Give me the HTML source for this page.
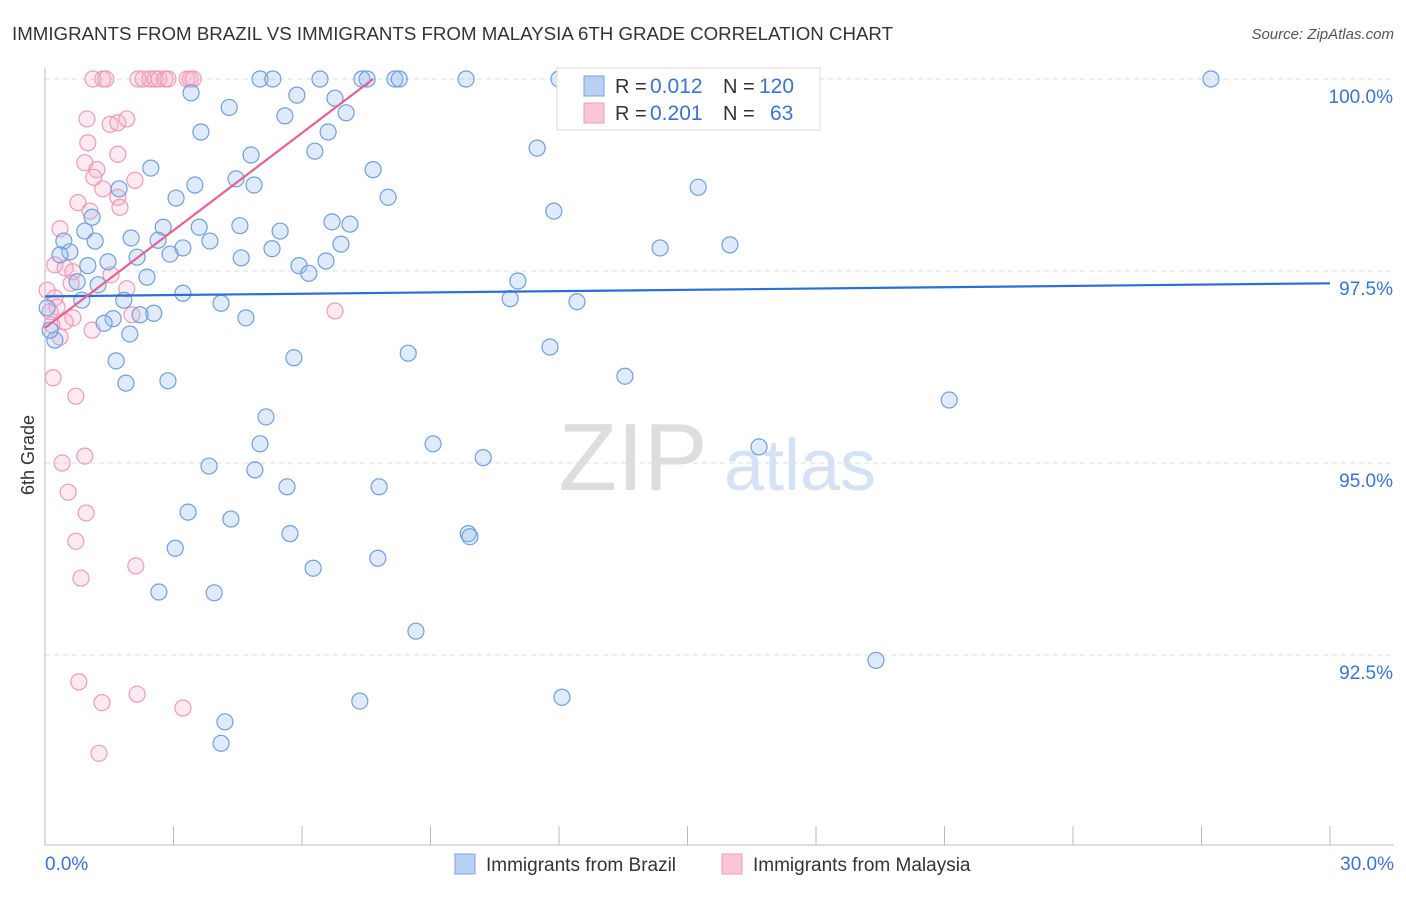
<!DOCTYPE html>
<html><head><meta charset="utf-8"><style>
body{margin:0;background:#fff;font-family:"Liberation Sans",sans-serif}
svg text{font-family:"Liberation Sans",sans-serif}
</style></head><body>
<svg id="c" width="1406" height="892" viewBox="0 0 1406 892">
<text x="12" y="40" font-size="18" fill="#333" textLength="881" lengthAdjust="spacingAndGlyphs">IMMIGRANTS FROM BRAZIL VS IMMIGRANTS FROM MALAYSIA 6TH GRADE CORRELATION CHART</text>
<text x="1394" y="39" font-size="15" fill="#555" font-style="italic" text-anchor="end">Source: ZipAtlas.com</text>
<text x="34" y="455" font-size="18" fill="#333" transform="rotate(-90 34 455)" text-anchor="middle">6th Grade</text>
<g><text x="633" y="490" font-size="96" fill="#ddd" font-family="Liberation Serif" text-anchor="middle">ZIP</text><text x="800" y="490" font-size="72" fill="#d5e2f5" text-anchor="middle">atlas</text></g>
<g id="grid"></g><g id="axes"></g><g id="pts"></g><g id="trend"></g>
<g>
<rect x="557" y="68" width="263" height="62" fill="#fff" stroke="#ddd"/>
<rect x="584" y="76" width="20" height="20" fill="#b8d0f2" stroke="#7aa3e0"/>
<rect x="584" y="103" width="20" height="20" fill="#f9c6d6" stroke="#f09ab8"/>
<text x="615" y="93" font-size="20" fill="#333">R =</text>
<text x="650" y="93" font-size="21" fill="#3a73d0">0.012</text>
<text x="723" y="93" font-size="20" fill="#333">N =</text>
<text x="759" y="93" font-size="21" fill="#3a73d0">120</text>
<text x="615" y="120" font-size="20" fill="#333">R =</text>
<text x="650" y="120" font-size="21" fill="#3a73d0">0.201</text>
<text x="723" y="120" font-size="20" fill="#333">N =</text>
<text x="770" y="120" font-size="21" fill="#3a73d0">63</text>
</g>
<g>
<rect x="455" y="854" width="20" height="20" fill="#b8d0f2" stroke="#7aa3e0"/>
<text x="486" y="871" font-size="19" fill="#333">Immigrants from Brazil</text>
<rect x="722" y="854" width="20" height="20" fill="#f9c6d6" stroke="#f09ab8"/>
<text x="753" y="871" font-size="19" fill="#333">Immigrants from Malaysia</text>
</g>
</svg>
<script>
const xTicks=[0,3,6,9,12,15,18,21,24,27,30];
const yTicks=[100,97.5,95,92.5];
const yTickLabels=["100.0%","97.5%","95.0%","92.5%"];
const brazilX=[5.02,5.32,6.42,7.40,7.52,8.17,8.27,9.83,12.0,13.96,27.22,3.41,5.88,6.77,4.30,5.60,7.03,3.64,6.61,6.30,11.49,4.81,2.47,7.66,4.46,4.88,3.50,1.73,15.25,8.01,3.06,11.88,1.10,6.70,7.12,2.76,3.60,4.55,5.49,0.93,2.01,2.64,3.85,1.17,0.44,6.91,3.22,15.99,14.36,5.30,0.58,0.35,2.92,4.58,2.15,1.47,5.93,1.00,6.56,6.16,2.38,11.04,0.75,1.24,3.22,1.84,10.86,12.42,0.86,4.11,2.54,2.22,1.59,1.38,4.69,1.98,0.23,11.79,8.48,5.81,1.66,1.89,2.87,13.54,21.11,5.16,9.06,5.02,16.67,10.23,3.83,4.90,7.80,5.65,3.34,4.34,5.72,9.88,9.92,3.04,7.77,6.26,2.66,3.95,8.66,19.40,7.35,12.07,4.20,4.11,0.05,0.12];
const brazilY=[100,100,100,100,100,100,100,100,100,100,100,99.82,99.79,99.75,99.63,99.52,99.56,99.31,99.31,99.06,99.10,99.01,98.84,98.82,98.70,98.62,98.62,98.57,98.59,98.46,98.45,98.28,98.20,98.14,98.11,98.07,98.07,98.09,98.02,98.02,97.93,97.90,97.89,97.89,97.89,97.85,97.80,97.84,97.80,97.79,97.75,97.71,97.72,97.67,97.68,97.62,97.57,97.57,97.63,97.47,97.42,97.37,97.36,97.32,97.21,97.12,97.14,97.10,97.12,97.08,96.95,96.93,96.88,96.82,96.89,96.68,96.60,96.51,96.43,96.37,96.33,96.04,96.07,96.13,95.82,95.60,95.25,95.25,95.21,95.07,94.96,94.91,94.69,94.69,94.36,94.27,94.08,94.08,94.04,93.89,93.76,93.63,93.32,93.31,92.81,92.43,91.90,91.95,91.63,91.35,97.02,96.73];
const malaysiaX=[1.12,1.35,1.42,2.17,2.29,2.45,2.57,2.66,2.80,2.87,3.32,3.39,3.46,0.98,1.52,1.70,1.91,1.00,1.70,0.93,1.21,1.14,2.10,1.35,1.70,1.75,0.77,1.05,0.35,0.23,0.47,0.65,1.54,0.61,0.05,0.23,1.91,0.28,0.12,0.65,2.03,0.47,1.10,6.77,0.16,0.35,0.19,0.72,0.93,0.40,0.54,0.96,0.72,0.84,2.12,0.79,2.15,1.33,3.22,1.26];
const malaysiaY=[100,100,100,100,100,100,100,100,100,100,100,100,100,99.48,99.41,99.43,99.48,99.17,99.02,98.91,98.82,98.72,98.68,98.57,98.46,98.33,98.39,98.28,98.05,97.58,97.54,97.49,97.45,97.34,97.25,97.15,97.27,97.03,96.97,96.89,96.93,96.84,96.73,96.98,96.80,96.64,96.11,95.87,95.09,95.00,94.62,94.35,93.98,93.50,93.66,92.15,91.99,91.88,91.81,91.22];
const brazilTrend=[[0,97.17],[30,97.34]];
const malaysiaTrend=[[0,96.76],[7.66,100]];
const NS="http://www.w3.org/2000/svg";
const X=v=>45+v*(1285/30), Y=v=>79+(100-v)*76.8;
function mk(t,a,p){const e=document.createElementNS(NS,t);for(const k in a)e.setAttribute(k,a[k]);p.appendChild(e);return e;}
const grid=document.getElementById('grid'),axes=document.getElementById('axes');
yTicks.forEach((t,i)=>{
 const l=mk('line',{x1:45,x2:1394,y1:Y(t),y2:Y(t),stroke:'#ddd','stroke-dasharray':'5,4'},grid);
 
 
 const tx=mk('text',{x:1393,y:Y(t)+24,'font-size':19,fill:'#3a73d0','text-anchor':'end'},axes);
 tx.textContent=yTickLabels[i];
 
 
});
const ax=mk('line',{x1:45,x2:1394,y1:845,y2:845,stroke:'#bbb'},axes);


const ay=mk('line',{x1:45,x2:45,y1:68,y2:845,stroke:'#bbb'},axes);


xTicks.forEach(t=>{
 const l=mk('line',{x1:X(t),x2:X(t),y1:826,y2:845,stroke:'#bbb'},axes);
 
 
});
[[0,"0.0%",'start',45],[30,"30.0%",'end',1394]].forEach(d=>{
 const tx=mk('text',{x:d[3],y:870,'font-size':19,fill:'#3a73d0','text-anchor':d[2]},axes);
 tx.textContent=d[1];
 
 
});
const pts=document.getElementById('pts');
malaysiaX.forEach((x,i)=>{
 const c=mk('circle',{cx:X(x),cy:Y(malaysiaY[i]),r:8,fill:'rgba(246,170,195,0.25)',stroke:'#f09ab8','stroke-width':1.2},pts);
 
 
});
brazilX.forEach((x,i)=>{
 const c=mk('circle',{cx:X(x),cy:Y(brazilY[i]),r:8,fill:'rgba(150,188,238,0.3)',stroke:'#6f9fe0','stroke-width':1.2},pts);
 
 
});
const tr=document.getElementById('trend');
const bt=mk('line',{x1:X(brazilTrend[0][0]),y1:Y(brazilTrend[0][1]),x2:X(brazilTrend[1][0]),y2:Y(brazilTrend[1][1]),stroke:'#2a6fd6','stroke-width':2.2},tr);


const mt=mk('line',{x1:X(malaysiaTrend[0][0]),y1:Y(malaysiaTrend[0][1]),x2:X(malaysiaTrend[1][0]),y2:Y(malaysiaTrend[1][1]),stroke:'#e8608e','stroke-width':2.2},tr);


</script>
</body></html>
